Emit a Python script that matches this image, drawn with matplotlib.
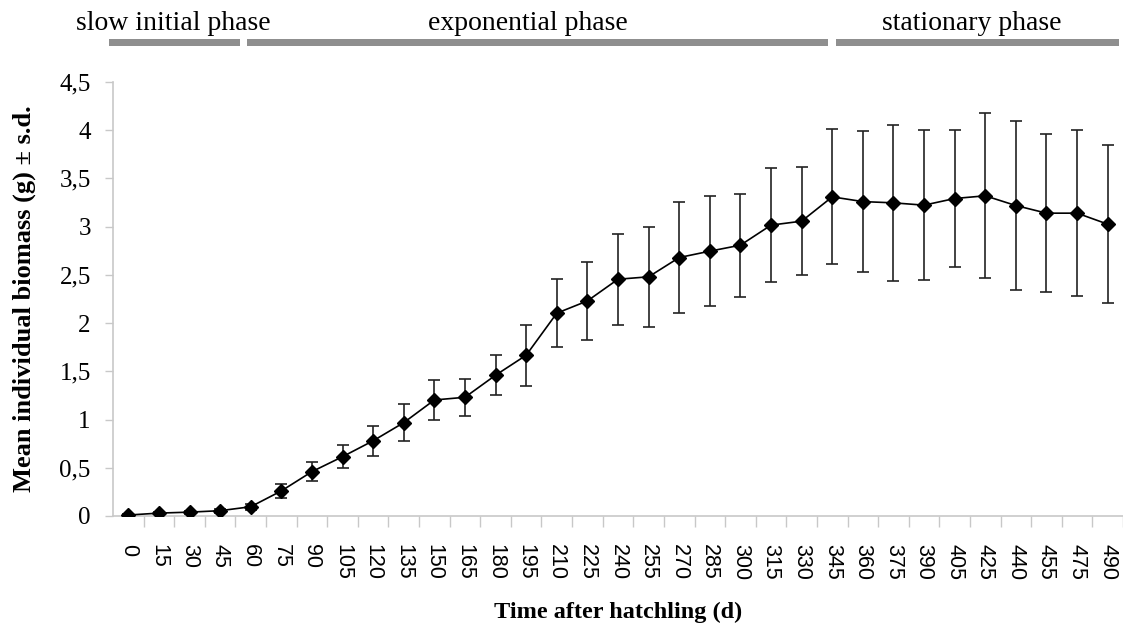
import matplotlib
matplotlib.use("Agg")
import matplotlib.pyplot as plt
import matplotlib.transforms as mtransforms
import numpy as np

days = ["0", "15", "30", "45", "60", "75", "90", "105", "120", "135", "150", "165",
        "180", "195", "210", "225", "240", "255", "270", "285", "300", "315", "330",
        "345", "360", "375", "390", "405", "425", "440", "455", "475", "490"]
biomass = [0.01, 0.03, 0.04, 0.055, 0.096, 0.26, 0.46, 0.615, 0.78, 0.968, 1.203,
           1.231, 1.46, 1.667, 2.103, 2.23, 2.455, 2.48, 2.68, 2.746, 2.808, 3.016,
           3.057, 3.309, 3.26, 3.247, 3.223, 3.292, 3.32, 3.219, 3.14, 3.14, 3.026]
sd = [0.01, 0.01, 0.015, 0.02, 0.03, 0.075, 0.1, 0.12, 0.155, 0.195, 0.21, 0.19,
      0.21, 0.315, 0.35, 0.4, 0.47, 0.52, 0.575, 0.57, 0.535, 0.59, 0.56, 0.7,
      0.73, 0.81, 0.78, 0.715, 0.855, 0.873, 0.82, 0.86, 0.82]
y_ticks = [0, 0.5, 1, 1.5, 2, 2.5, 3, 3.5, 4, 4.5]
y_tick_labels = ["0", "0,5", "1", "1,5", "2", "2,5", "3", "3,5", "4", "4,5"]
phases = ["slow initial phase", "exponential phase", "stationary phase"]

SERIF = "Liberation Serif"
SANS = "Liberation Sans"

W, H = 1123, 625
fig = plt.figure(figsize=(W / 100, H / 100), dpi=100)
ax_left, ax_right, ax_bottom, ax_top = 113, 1123, 516, 82
ax = fig.add_axes([ax_left / W, (H - ax_bottom) / H,
                   (ax_right - ax_left) / W, (ax_bottom - ax_top) / H])

x = np.arange(len(days))
ax.errorbar(x, biomass, yerr=sd, fmt="none", ecolor="#222222", elinewidth=1.2,
            capsize=4.5, capthick=1.2, zorder=2)
ax.plot(x, biomass, color="black", lw=1.2, marker="D", markersize=7,
        markerfacecolor="black", markeredgecolor="black", zorder=3)

ax.set_xlim(-0.5, -0.5 + (ax_right - ax_left) / 30.68)
ax.set_ylim(0, 4.5)

grey = "#c8c8c8"
for s in ["top", "right"]:
    ax.spines[s].set_visible(False)
for s in ["left", "bottom"]:
    ax.spines[s].set_color(grey)
    ax.spines[s].set_linewidth(1.2)

ax.set_yticks(y_ticks)
ax.set_yticklabels(y_tick_labels, fontfamily=SERIF, fontsize=18)
ax.tick_params(axis="y", direction="out", length=6, color=grey, width=1, pad=10)

ax.set_xticks(x)
ax.set_xticklabels(days, fontfamily=SANS, fontsize=15.5, rotation=270,
                   va="top", ha="center")
ax.set_xticks(np.arange(len(days)) + 0.5, minor=True)
ax.tick_params(axis="x", which="major", length=0, pad=20)
ax.tick_params(axis="x", which="minor", direction="out", length=8, color=grey, width=1)

ax.set_xlabel("Time after hatchling (d)", fontfamily=SERIF, fontsize=17.5,
              fontweight="bold")
ax.xaxis.set_label_coords(0.5, -(612 - ax_bottom) / (ax_bottom - ax_top))
ax.xaxis.label.set_va("center")
ax.set_ylabel("Mean individual biomass (g) ± s.d.", fontfamily=SERIF, fontsize=19,
              fontweight="bold")
ax.yaxis.set_label_coords(-(ax_left - 24) / (ax_right - ax_left), 0.5)
ax.yaxis.label.set_va("center")

# phase annotations above the plot (figure pixel layout)
bar_spans = [(109, 240), (247, 828), (836, 1119)]
text_centers = [173, 528, 972]
for name, (x0, x1), xc in zip(phases, bar_spans, text_centers):
    fig.patches.append(plt.Rectangle((x0 / W, (H - 46) / H), (x1 - x0) / W, 7 / H,
                                     transform=fig.transFigure, facecolor="#8f8f8f",
                                     edgecolor="none"))
    fig.text(xc / W, (H - 24) / H, name, fontfamily=SERIF, fontsize=20,
             ha="center", va="center")

fig.savefig("out.png", dpi=100)
